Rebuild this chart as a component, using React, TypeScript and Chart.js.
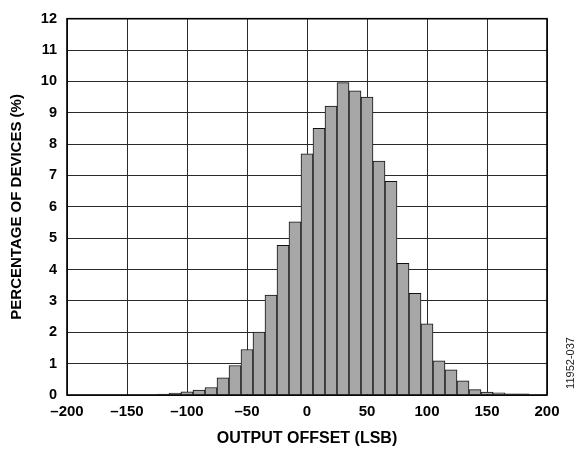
import React, { useEffect, useRef } from "react";
import { Chart, registerables } from "chart.js";

Chart.register(...registerables);

// Histogram bins (bin centres, LSB) and percentage of devices per bin
const binCenters: number[] = [
  -120, -110, -100, -90, -80, -70, -60, -50, -40, -30, -20, -10,
  0, 10, 20, 30, 40, 50, 60, 70, 80, 90, 100, 110, 120, 130, 140, 150, 160, 170, 180,
];
const percentages: number[] = [
  0.03, 0.06, 0.1, 0.16, 0.24, 0.55, 0.94, 1.45, 2.01, 3.19, 4.77, 5.52,
  7.69, 8.5, 9.21, 9.96, 9.7, 9.5, 7.46, 6.81, 4.2, 3.24, 2.27, 1.09, 0.8, 0.45, 0.17, 0.09, 0.07, 0.04, 0.04,
];

const xTitle = "OUTPUT OFFSET (LSB)";
const yTitle = "PERCENTAGE OF DEVICES (%)";
const figureId = "11952-037";

const framePlugin = {
  id: "frame",
  afterDraw(chart: any) {
    const { ctx, chartArea } = chart;
    ctx.save();
    ctx.strokeStyle = "#000";
    ctx.lineWidth = 1.6;
    ctx.strokeRect(chartArea.left, chartArea.top, chartArea.right - chartArea.left, chartArea.bottom - chartArea.top);
    ctx.translate(571, 363);
    ctx.rotate(-Math.PI / 2);
    ctx.fillStyle = "#222";
    ctx.font = "11px 'Liberation Sans', Arial, sans-serif";
    ctx.textAlign = "center";
    ctx.textBaseline = "middle";
    ctx.fillText(figureId, 0, 0);
    ctx.restore();
  },
};

export default function App() {
  const ref = useRef<HTMLCanvasElement | null>(null);
  useEffect(() => {
    if (!ref.current) return;
    const font = "'Liberation Sans', Arial, sans-serif";
    const chart = new Chart(ref.current, {
      type: "bar",
      data: {
        datasets: [
          {
            data: binCenters.map((x, i) => ({ x, y: percentages[i] })),
            backgroundColor: "#a7a7a7",
            borderColor: "#111",
            borderWidth: 1,
            barPercentage: 1,
            categoryPercentage: 1,
          },
        ],
      },
      options: {
        animation: false,
        responsive: false,
        maintainAspectRatio: false,
        events: [],
        layout: { padding: { left: 0, top: 11, right: 40, bottom: 0 } },
        plugins: { legend: { display: false }, tooltip: { enabled: false } },
        scales: {
          x: {
            type: "linear",
            min: -200,
            max: 200,
            offset: false,
            grid: { offset: false, color: "#2a2a2a", lineWidth: 1, drawTicks: false, tickLength: 0 },
            border: { display: false },
            ticks: {
              stepSize: 50,
              padding: 8,
              color: "#000",
              font: { family: font, size: 15, weight: "bold" },
              maxRotation: 0,
              callback: (v: any) => String(v).replace("-", "\u2013"),
            },
            title: {
              display: true,
              text: xTitle,
              color: "#000",
              font: { family: font, size: 16, weight: "bold" },
              padding: { top: 0, bottom: 4 },
            },
            afterFit: (s: any) => {
              s.height = 57;
            },
          },
          y: {
            min: 0,
            max: 12,
            grid: { color: "#2a2a2a", lineWidth: 1, drawTicks: false, tickLength: 0 },
            border: { display: false },
            ticks: {
              stepSize: 1,
              padding: 10,
              color: "#000",
              font: { family: font, size: 14.5, weight: "bold" },
            },
            title: {
              display: true,
              text: yTitle,
              color: "#000",
              font: { family: font, size: 15, weight: "bold" },
              padding: { top: 8, bottom: 0 },
            },
            afterFit: (s: any) => {
              s.width = 67;
            },
          },
        },
      },
      plugins: [framePlugin],
    });
    return () => chart.destroy();
  }, []);
  return (
    <div style={{ position: "fixed", left: 0, top: 0, width: 587, height: 452, background: "#fff" }}>
      <canvas ref={ref} width={587} height={452} style={{ width: 587, height: 452, display: "block" }} />
    </div>
  );
}
